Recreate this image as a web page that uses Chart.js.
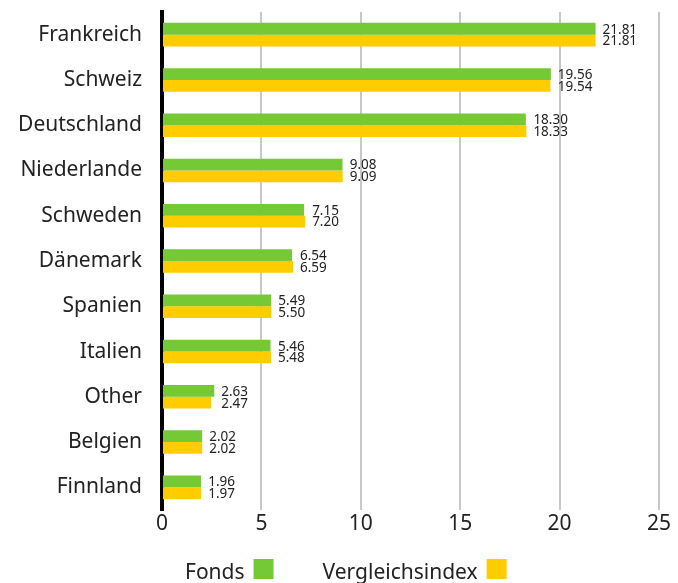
<!DOCTYPE html>
<html>
<head>
<meta charset="utf-8">
<script src="https://cdn.jsdelivr.net/npm/chart.js@4/dist/chart.umd.min.js"></script>
<style>
  html, body { margin: 0; padding: 0; background: #fff; }
  #wrap { width: 678px; height: 583px; position: relative; }
</style>
</head>
<body>
<div id="wrap"><canvas id="chart"></canvas></div>
<script>
const countries = ["Frankreich", "Schweiz", "Deutschland", "Niederlande", "Schweden", "Dänemark", "Spanien", "Italien", "Other", "Belgien", "Finnland"];
const fonds = [21.81, 19.56, 18.30, 9.08, 7.15, 6.54, 5.49, 5.46, 2.63, 2.02, 1.96];
const index = [21.81, 19.54, 18.33, 9.09, 7.20, 6.59, 5.50, 5.48, 2.47, 2.02, 1.97];
const seriesNames = ["Fonds", "Vergleichsindex"];
const xTicks = [0, 5, 10, 15, 20, 25];

const FONT = "'Noto Sans', sans-serif";
const TEXT = "#222";

// numbers next to the bars, both start after the longer bar
const valueLabels = {
  id: "valueLabels",
  afterDatasetsDraw(chart) {
    const ctx = chart.ctx;
    const m0 = chart.getDatasetMeta(0);
    const m1 = chart.getDatasetMeta(1);
    ctx.save();
    ctx.font = "13.5px " + FONT;
    ctx.fillStyle = TEXT;
    ctx.textBaseline = "middle";
    m0.data.forEach((bar, i) => {
      const x = Math.max(bar.x, m1.data[i].x) + 7;
      ctx.fillText(fonds[i].toFixed(2), x, bar.y + 1);
      ctx.fillText(index[i].toFixed(2), x, m1.data[i].y + 1);
    });
    ctx.restore();
  }
};

// legend: text first, then the colour box
const textLegend = {
  id: "textLegend",
  afterDraw(chart) {
    const ctx = chart.ctx;
    ctx.save();
    ctx.font = "21px " + FONT;
    ctx.textBaseline = "alphabetic";
    let x = 185;
    const base = 579;
    chart.data.datasets.forEach(ds => {
      ctx.fillStyle = TEXT;
      ctx.fillText(ds.label, x, base);
      x += ctx.measureText(ds.label).width + 9;
      ctx.fillStyle = ds.backgroundColor;
      ctx.fillRect(x, base - 20, 20, 20);
      x += 20 + 49;
    });
    ctx.restore();
  }
};

new Chart(document.getElementById("chart"), {
  type: "bar",
  data: {
    labels: countries,
    datasets: [
      { label: seriesNames[0], data: fonds, backgroundColor: "#74c935" },
      { label: seriesNames[1], data: index, backgroundColor: "#ffcc00" }
    ]
  },
  options: {
    indexAxis: "y",
    responsive: true,
    maintainAspectRatio: false,
    animation: false,
    categoryPercentage: 0.52,
    barPercentage: 1,
    layout: { padding: { top: 12, right: 19, left: 0, bottom: 0 } },
    plugins: {
      legend: { display: false },
      tooltip: { enabled: false }
    },
    scales: {
      x: {
        min: 0,
        max: 25,
        afterBuildTicks: s => { s.ticks = xTicks.map(v => ({ value: v })); },
        afterFit: s => { s.height = 73; },
        grid: {
          color: c => c.tick && c.tick.value === 0 ? "rgba(0,0,0,0)" : "#c8c8c8",
          lineWidth: 2,
          drawTicks: false
        },
        border: { display: false },
        ticks: { padding: 1, color: TEXT, font: { family: FONT, size: 21 } }
      },
      y: {
        afterFit: s => { s.width = 162; s.paddingTop = 0; s.paddingBottom = 0; },
        grid: { display: false, drawTicks: false },
        border: { display: true, color: "#000", width: 4 },
        ticks: { padding: 20, color: TEXT, font: { family: FONT, size: 21 } }
      }
    }
  },
  plugins: [valueLabels, textLegend]
});
</script>
</body>
</html>
